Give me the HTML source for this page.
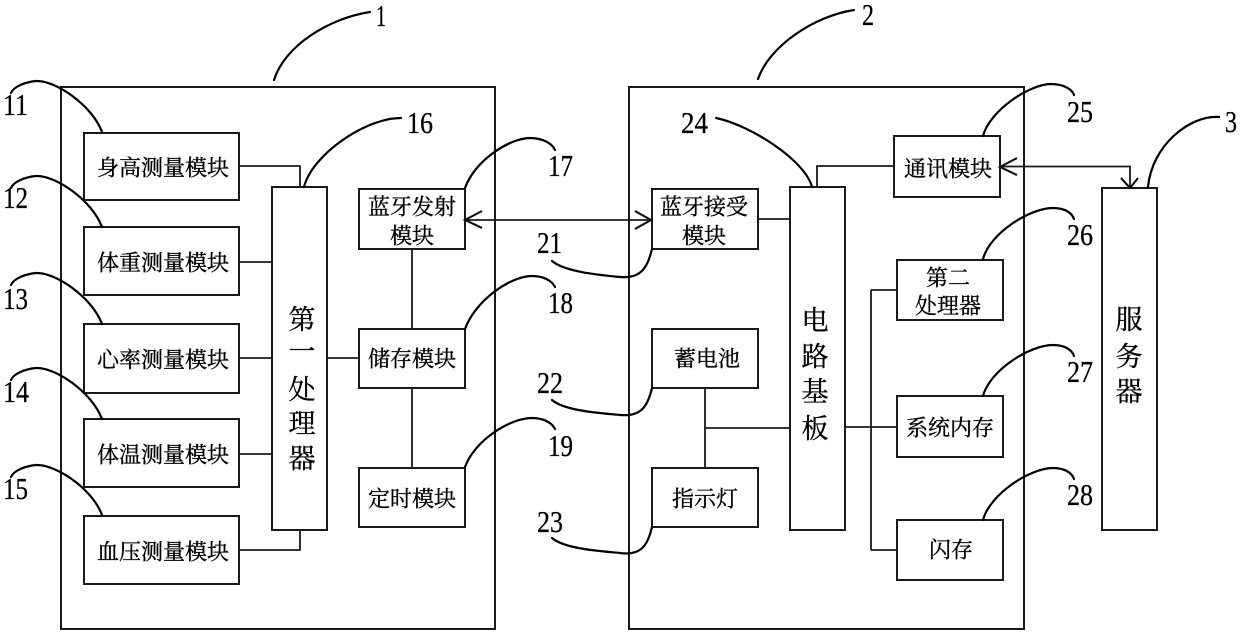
<!DOCTYPE html>
<html lang="zh">
<head>
<meta charset="utf-8">
<style>
html,body{margin:0;padding:0;background:#fff;width:1240px;height:634px;overflow:hidden}
svg{display:block}
.r{fill:none;stroke:#1a1a1a;stroke-width:2}
.l{fill:none;stroke:#1a1a1a;stroke-width:1.8}
.a{fill:none;stroke:#111;stroke-width:2.1}
.c{fill:none;stroke:#000;stroke-width:2.2;stroke-linecap:round}
.t{font-family:"Liberation Serif","Noto Serif CJK SC",serif;fill:#000;stroke:#000;stroke-width:.35;text-anchor:middle;dominant-baseline:central}
.s{font-size:22px}
.b{font-size:27px}
.n{font-family:"Liberation Serif",serif;font-size:31px;fill:#000;stroke:#000;stroke-width:.3}
</style>
</head>
<body>
<svg width="1240" height="634" viewBox="0 0 1240 634" xmlns="http://www.w3.org/2000/svg">
<rect x="0" y="0" width="1240" height="634" fill="#fff"/>
<!-- containers -->
<rect class="r" x="61" y="87" width="434" height="542"/>
<rect class="r" x="629" y="87" width="395" height="542"/>
<!-- left boxes -->
<rect class="r" x="84" y="133" width="155" height="67"/>
<rect class="r" x="84" y="227" width="155" height="68"/>
<rect class="r" x="84" y="324" width="155" height="69"/>
<rect class="r" x="84" y="419" width="155" height="68"/>
<rect class="r" x="84" y="516" width="155" height="68"/>
<rect class="r" x="272" y="187" width="55" height="343"/>
<rect class="r" x="359" y="189" width="106" height="60"/>
<rect class="r" x="359" y="329" width="106" height="59"/>
<rect class="r" x="359" y="468" width="106" height="59"/>
<!-- right boxes -->
<rect class="r" x="652" y="189" width="106" height="60"/>
<rect class="r" x="652" y="329" width="106" height="59"/>
<rect class="r" x="652" y="468" width="106" height="59"/>
<rect class="r" x="790" y="187" width="55" height="343"/>
<rect class="r" x="894" y="136" width="106" height="61"/>
<rect class="r" x="897" y="260" width="106" height="60"/>
<rect class="r" x="897" y="396" width="106" height="61"/>
<rect class="r" x="897" y="520" width="106" height="60"/>
<rect class="r" x="1102" y="188" width="55" height="342"/>
<!-- connectors -->
<path class="l" d="M239 166H300V187M239 262H272M239 358H272M239 454H272M239 550H300V530M327 358H359M412 249V329M412 388V468"/>
<path class="l" d="M465 220H651"/>
<path class="a" d="M482 211L465 220L482 228M635 211L651 220L635 229"/>
<path class="l" d="M758 219H790M705 388V468M705 428H790M845 427H897M871 290V550M871 290H897M871 550H897M817 187V166H894"/>
<path class="l" d="M1000 166.500H1130V187"/>
<path class="a" d="M1017 158L1000 167L1017 175M1121 178L1130 188L1138 178"/>
<!-- leader curves -->
<path class="c" d="M274 80C285 45 330 18 370 12"/>
<path class="c" d="M758 79C770 45 815 16 854 10"/>
<path class="c" d="M1148 187C1152 145 1190 115 1219 117"/>
<path class="c" d="M102 132C92 105 55 80 36 81C26 82 14 86 11 93"/>
<path class="c" d="M102 227C92 200 55 175 36 176C26 177 14 181 11 188"/>
<path class="c" d="M102 324C92 297 55 272 36 273C26 274 14 278 11 285"/>
<path class="c" d="M102 419C92 392 55 367 36 368C26 369 14 373 11 380"/>
<path class="c" d="M102 515C92 488 55 464 36 465C26 466 14 470 11 477"/>
<path class="c" d="M304 187C312 155 365 118 401 118"/>
<path class="c" d="M465 188C475 160 510 138 530 138C542 138 552 143 555 150"/>
<path class="c" d="M465 329C475 301 510 276 532 276C544 276 552 281 555 287"/>
<path class="c" d="M465 467C475 440 510 418 532 418C544 418 552 423 555 429"/>
<path class="c" d="M552 261C565 272 600 275 620 277C642 279 648 266 652 249"/>
<path class="c" d="M552 400C565 411 600 413 620 415C642 417 648 405 652 388"/>
<path class="c" d="M552 538C565 549 600 551 620 553C642 556 648 544 652 527"/>
<path class="c" d="M716 118C750 125 805 160 812 187"/>
<path class="c" d="M983 136C990 110 1030 84 1051 84C1063 84 1072 89 1074 95"/>
<path class="c" d="M983 259C990 233 1030 208 1053 208C1065 208 1072 213 1074 219"/>
<path class="c" d="M983 396C990 370 1030 345 1053 345C1065 345 1072 350 1074 356"/>
<path class="c" d="M983 520C990 494 1030 468 1053 468C1065 468 1072 473 1074 479"/>
<!-- box labels -->
<text class="t s" x="163" y="168">身高测量模块</text>
<text class="t s" x="163" y="263">体重测量模块</text>
<text class="t s" x="163" y="360">心率测量模块</text>
<text class="t s" x="163" y="455">体温测量模块</text>
<text class="t s" x="163" y="552">血压测量模块</text>
<text class="t s" x="412" y="207">蓝牙发射</text>
<text class="t s" x="412" y="236">模块</text>
<text class="t s" x="412" y="359">储存模块</text>
<text class="t s" x="412" y="499">定时模块</text>
<text class="t s" x="704" y="207">蓝牙接受</text>
<text class="t s" x="704" y="236">模块</text>
<text class="t s" x="707" y="359">蓄电池</text>
<text class="t s" x="705" y="499">指示灯</text>
<text class="t s" x="948" y="169">通讯模块</text>
<text class="t s" x="948" y="278">第二</text>
<text class="t s" x="948" y="306">处理器</text>
<text class="t s" x="950" y="428">系统内存</text>
<text class="t s" x="951" y="550">闪存</text>
<text class="t b" x="302" y="320">第</text>
<text class="t b" x="302" y="352">一</text>
<text class="t b" x="302" y="390">处</text>
<text class="t b" x="302" y="424">理</text>
<text class="t b" x="302" y="459">器</text>
<text class="t b" x="815" y="321">电</text>
<text class="t b" x="815" y="357">路</text>
<text class="t b" x="815" y="392">基</text>
<text class="t b" x="815" y="429">板</text>
<text class="t b" x="1129" y="320">服</text>
<text class="t b" x="1129" y="357">务</text>
<text class="t b" x="1129" y="392">器</text>
<!-- numerals -->
<text class="n" x="376" y="26" textLength="10" lengthAdjust="spacingAndGlyphs">1</text>
<text class="n" x="862" y="25" textLength="12" lengthAdjust="spacingAndGlyphs">2</text>
<text class="n" x="1225" y="132" textLength="12" lengthAdjust="spacingAndGlyphs">3</text>
<text class="n" x="3" y="115" textLength="25" lengthAdjust="spacingAndGlyphs">11</text>
<text class="n" x="3" y="208" textLength="25" lengthAdjust="spacingAndGlyphs">12</text>
<text class="n" x="3" y="309" textLength="25" lengthAdjust="spacingAndGlyphs">13</text>
<text class="n" x="3" y="402" textLength="26" lengthAdjust="spacingAndGlyphs">14</text>
<text class="n" x="3" y="499" textLength="25" lengthAdjust="spacingAndGlyphs">15</text>
<text class="n" x="407" y="133" textLength="26" lengthAdjust="spacingAndGlyphs">16</text>
<text class="n" x="548" y="176" textLength="25" lengthAdjust="spacingAndGlyphs">17</text>
<text class="n" x="548" y="313" textLength="25" lengthAdjust="spacingAndGlyphs">18</text>
<text class="n" x="548" y="456" textLength="25" lengthAdjust="spacingAndGlyphs">19</text>
<text class="n" x="537" y="253" textLength="25" lengthAdjust="spacingAndGlyphs">21</text>
<text class="n" x="537" y="393" textLength="26" lengthAdjust="spacingAndGlyphs">22</text>
<text class="n" x="537" y="532" textLength="26" lengthAdjust="spacingAndGlyphs">23</text>
<text class="n" x="681" y="133" textLength="27" lengthAdjust="spacingAndGlyphs">24</text>
<text class="n" x="1067" y="122" textLength="26" lengthAdjust="spacingAndGlyphs">25</text>
<text class="n" x="1067" y="245" textLength="26" lengthAdjust="spacingAndGlyphs">26</text>
<text class="n" x="1067" y="382" textLength="26" lengthAdjust="spacingAndGlyphs">27</text>
<text class="n" x="1067" y="505" textLength="26" lengthAdjust="spacingAndGlyphs">28</text>
</svg>
</body>
</html>
